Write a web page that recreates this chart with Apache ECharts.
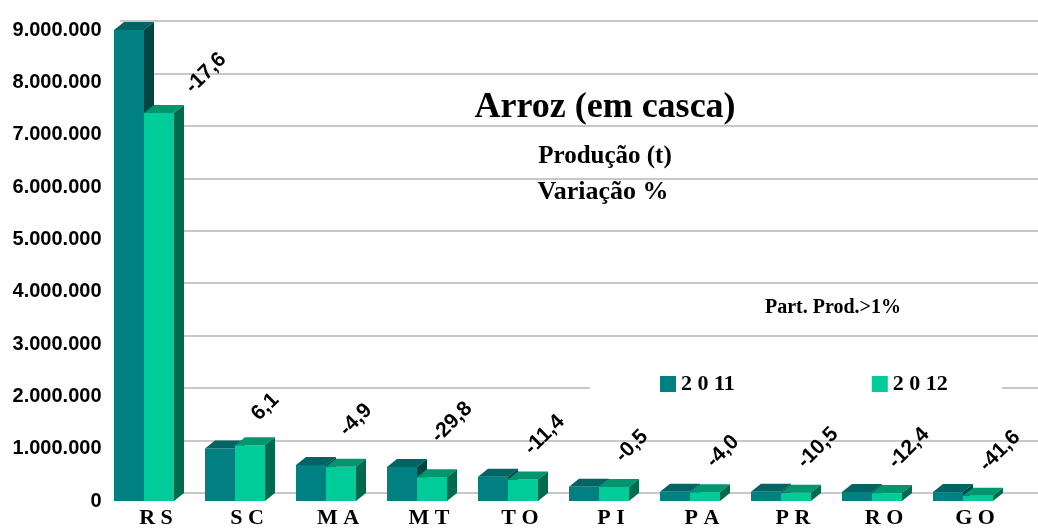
<!DOCTYPE html>
<html>
<head>
<meta charset="utf-8">
<script src="https://cdn.jsdelivr.net/npm/echarts@6/dist/echarts.min.js"></script>
<style>html,body{margin:0;padding:0;background:#fff}#c{width:1038px;height:529px}</style>
</head>
<body>
<div id="c"></div>
<script>
const categories = ['RS','SC','MA','MT','TO','PI','PA','PR','RO','GO'];
const seriesNames = ['2 0 11','2 0 12'];
const prod2011 = [9000000, 1005000, 690000, 650000, 465000, 270000, 175000, 175000, 172000, 170000];
const prod2012 = [7415000, 1066000, 656000, 456000, 412000, 268700, 168000, 156600, 150700, 99300];
const variation = ['-17,6','6,1','-4,9','-29,8','-11,4','-0,5','-4,0','-10,5','-12,4','-41,6'];
const yMin = 0, yMax = 9000000, yStep = 1000000;

const palette = [
  {front:'#008080', top:'#006464', side:'#004545'},
  {front:'#00CC99', top:'#009670', side:'#006A4F'}
];
const DX = 10, DY = -8;
const labelShift = {0:[25, 5], 2:[-3,-6], 3:[-2,-10]};

function fmt(v){ return String(v).replace(/\B(?=(\d{3})+(?!\d))/g,'.'); }

function render3D(sIdx){
  return function(params, api){
    const idx = api.value(0), val = api.value(1);
    const top = api.coord([idx, val]);
    const base = api.coord([idx, 0]);
    const band = api.size([1,0])[0];
    const w = band * 0.33;
    const x0 = sIdx === 0 ? top[0] - w : top[0];
    const x1 = x0 + w;
    const yT = top[1], yB = base[1];
    const c = palette[sIdx];
    const children = [
      {type:'rect', shape:{x:x0, y:yT, width:w, height:yB-yT}, style:{fill:c.front}},
      {type:'polygon', shape:{points:[[x0,yT],[x0+DX,yT+DY],[x1+DX,yT+DY],[x1,yT]]}, style:{fill:c.top}},
      {type:'polygon', shape:{points:[[x1,yT],[x1+DX,yT+DY],[x1+DX,yB+DY],[x1,yB]]}, style:{fill:c.side}}
    ];
    if (sIdx === 1) {
      const sh = labelShift[idx] || [0,0];
      children.push({
        type:'text', x:(x0+x1)/2 + 5 + sh[0], y:yT - 28 + sh[1], rotation:Math.PI/4,
        style:{text:variation[idx], fill:'#000', align:'left', verticalAlign:'middle',
          font:'bold 21px "Liberation Sans", Arial, sans-serif'}
      });
    }
    return {type:'group', children};
  };
}

const chart = echarts.init(document.getElementById('c'));
chart.setOption({
  animation:false,
  backgroundColor:'#fff',
  grid:[
    {left:98.5, right:29.5, top:30, bottom:27.5},
    {left:120, right:0, top:21, bottom:36}
  ],
  xAxis:[
    {type:'category', gridIndex:0, data:categories, axisLine:{show:false}, axisTick:{show:false},
     axisLabel:{formatter:v=>v.split('').join(' '), color:'#000', fontFamily:'"Liberation Serif", "Times New Roman", serif',
       fontWeight:'bold', fontSize:22, margin:6, padding:[0,0,0,24]}},
    {type:'value', gridIndex:1, show:false, min:0, max:1}
  ],
  yAxis:[
    {type:'value', gridIndex:0, min:yMin, max:yMax, interval:yStep, splitLine:{show:false},
     axisLine:{show:false}, axisTick:{show:false},
     axisLabel:{formatter:fmt, color:'#000', fontFamily:'"Liberation Sans", Arial, sans-serif', fontWeight:'bold', fontSize:20, margin:-3}},
    {type:'value', gridIndex:1, min:yMin, max:yMax, interval:yStep, axisLine:{show:false}, axisTick:{show:false},
     axisLabel:{show:false}, splitLine:{show:true, lineStyle:{color:'#c8c8c8', width:2}}}
  ],
  legend:{
    data:[{name:seriesNames[0], icon:'rect'},{name:seriesNames[1], icon:'rect'}],
    left:590, top:363, padding:[10,54,10,70], itemGap:137, itemWidth:16, itemHeight:16,
    backgroundColor:'#fff', z:5,
    textStyle:{color:'#000', fontFamily:'"Liberation Serif", "Times New Roman", serif', fontWeight:'bold', fontSize:22}
  },
  graphic:[
    {type:'text', x:605, y:108, z:10, style:{text:'Arroz (em casca)', align:'center', verticalAlign:'middle', fill:'#000',
      font:'bold 36px "Liberation Serif", "Times New Roman", serif'}},
    {type:'text', x:605, y:157, z:10, style:{text:'Produção (t)', align:'center', verticalAlign:'middle', fill:'#000',
      font:'bold 25px "Liberation Serif", "Times New Roman", serif'}},
    {type:'text', x:603, y:192, z:10, style:{text:'Variação %', align:'center', verticalAlign:'middle', fill:'#000',
      font:'bold 26px "Liberation Serif", "Times New Roman", serif'}},
    {type:'text', x:833, y:308, z:10, style:{text:'Part. Prod.>1%', align:'center', verticalAlign:'middle', fill:'#000',
      font:'bold 20px "Liberation Serif", "Times New Roman", serif'}}
  ],
  series:[
    {name:seriesNames[0], type:'custom', xAxisIndex:0, yAxisIndex:0, itemStyle:{color:palette[0].front},
     data:prod2011.map((v,i)=>[i,v]), encode:{x:0,y:1}, renderItem:render3D(0)},
    {name:seriesNames[1], type:'custom', xAxisIndex:0, yAxisIndex:0, itemStyle:{color:palette[1].front},
     data:prod2012.map((v,i)=>[i,v]), encode:{x:0,y:1}, renderItem:render3D(1)}
  ]
});
</script>
</body>
</html>
